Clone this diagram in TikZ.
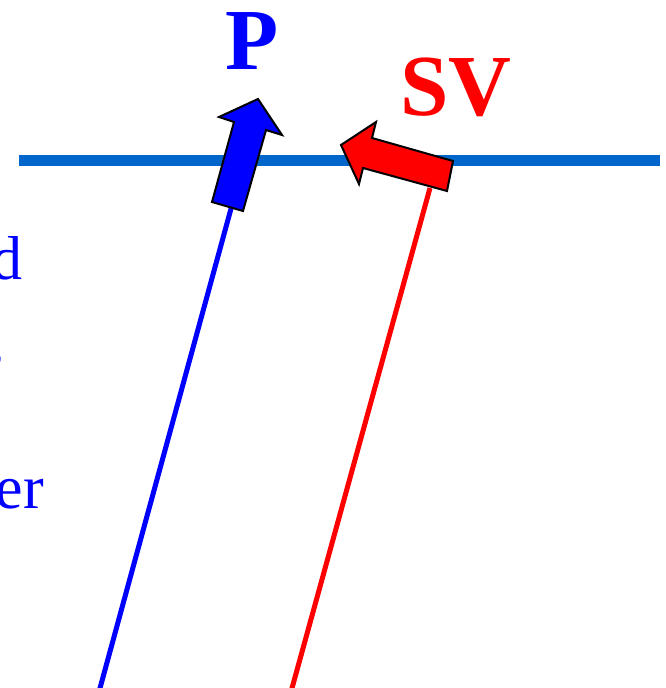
\documentclass[tikz,border=0pt]{standalone}
\usepackage{fontspec}
\setmainfont{Liberation Serif}
\definecolor{planeblue}{RGB}{0,102,204}
\definecolor{rayblue}{RGB}{0,0,255}
\definecolor{rayred}{RGB}{255,0,0}
\begin{document}
\begin{tikzpicture}[x=1pt,y=-1pt,
  bigtxt/.style={font=\fontsize{87}{87}\selectfont\bfseries, inner sep=0pt, anchor=base},
  sidetxt/.style={font=\fontsize{62}{62}\selectfont, text=rayblue, inner sep=0pt, anchor=base east},
  ray/.style={line width=5pt},
  fatarrow/.style={draw=black, line width=2pt, line join=miter}]
\useasboundingbox (0,0) rectangle (665,688);
% interface
\coordinate (ifL) at (19,160.5);
\coordinate (ifR) at (660,160.5);
\draw[planeblue, line width=11pt] (ifL) -- (ifR);
% rays
\coordinate (pbot) at (99.5,690);
\coordinate (ptop) at (232,205);
\coordinate (sbot) at (291.5,690);
\coordinate (stop) at (430,188);
\draw[ray, rayblue] (pbot) -- (ptop);
\draw[ray, rayred] (sbot) -- (stop);
% P arrow
\filldraw[fatarrow, fill=rayblue] (212,202) -- (243,211) -- (266,130) -- (282,135) -- (258,99) -- (219,117) -- (234,122) -- cycle;
% SV arrow
\filldraw[fatarrow, fill=rayred] (341,145) -- (376,122) -- (372,138) -- (453,161) -- (447,191) -- (363,168) -- (359,184) -- cycle;
% labels
\node[bigtxt, text=rayblue] (labP) at (252.5,69) {P};
\node[bigtxt, text=rayred] (labSV) at (456,115) {SV};
\node[sidetxt] (t1) at (23,279) {d};
\node[sidetxt] (t2) at (5,360) {,};
\node[sidetxt] (t3) at (44,508) {er};
\end{tikzpicture}
\end{document}
